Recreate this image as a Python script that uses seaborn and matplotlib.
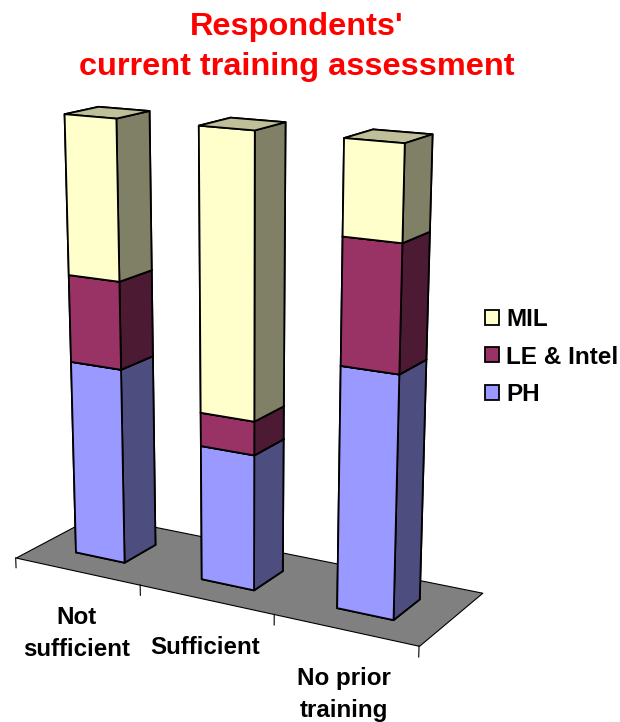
import numpy as np
import seaborn as sns
import matplotlib
matplotlib.use('Agg')
import matplotlib.pyplot as plt
from matplotlib.patches import Patch
from mpl_toolkits.mplot3d.art3d import Poly3DCollection

sns.set_style('white')
plt.rcParams['font.family'] = ['Liberation Sans', 'DejaVu Sans']
plt.rcParams['text.color'] = 'black'

categories = ['Not\nsufficient', 'Sufficient', 'No prior\ntraining']
series_names = ['PH', 'LE & Intel', 'MIL']
ph_values = [45.1, 30.8, 53.3]
le_values = [19.7, 7.5, 26.9]
mil_values = [35.2, 61.7, 19.8]

palette = sns.color_palette(['#9999FF', '#993366', '#FFFFCC'])

W, H = 620, 722
fig = plt.figure(figsize=(6.2, 7.22), dpi=100)
ax = fig.add_axes([-127.2 / W, -50.4 / H, 722 / W, 1], projection='3d', computed_zorder=False)
ax.set_proj_type('persp', focal_length=0.5)
ax.view_init(elev=16.5, azim=-60.4)
ax.set_xlim(0, 3)
ax.set_ylim(0, 1)
ax.set_zlim(0, 80)  # camera looks below the middle of the bars
ax.set_box_aspect((460, 150, 367), zoom=0.825)
ax.set_axis_off()

# grey floor with the category ticks on its front edge
floor = [[(0, 0, 0), (3, 0, 0), (3, 1, 0), (0, 1, 0)]]
ax.add_collection3d(Poly3DCollection(floor, facecolors='#808080', edgecolors='black',
                                     linewidths=0.8, zorder=1))
for i in range(len(categories) + 1):
    ax.plot([i, i], [0, 0], [0, -2.5], color='black', lw=0.8, zorder=2)

# stacked 3D bars
bottom = np.zeros(len(categories))
for values, color in zip([ph_values, le_values, mil_values], palette):
    base = np.array(color)
    faces = [base * 0.75, base * 0.75, base, base * 0.75, base, base * 0.5]
    xpos = np.arange(len(categories)) + 0.3
    ax.bar3d(xpos, np.full(3, 0.29), bottom, 0.395, 0.4, values,
             color=faces * len(categories), shade=False, edgecolor='black',
             linewidth=1.3, zorder=3)
    bottom = bottom + np.array(values)

fig.text(297 / W, 1 - 27 / H, "Respondents'", color='red', fontsize=23.4, fontweight='bold',
         ha='center', va='center')
fig.text(297 / W, 1 - 67 / H, 'current training assessment', color='red', fontsize=23.4,
         fontweight='bold', ha='center', va='center')

label_pos = [(77, 633.5), (205, 647), (344, 694)]
for label, (lx, ly) in zip(categories, label_pos):
    fig.text(lx / W, 1 - ly / H, label, fontsize=17.4, fontweight='bold', ha='center',
             va='center', linespacing=1.5)

handles = [Patch(facecolor=c, edgecolor='black', lw=1.3, label=n)
           for c, n in zip(palette[::-1], series_names[::-1])]
fig.legend(handles=handles, loc='center left', bbox_to_anchor=(485 / W, 1 - 357 / H),
           frameon=False, prop={'weight': 'bold', 'size': 17.5},
           handlelength=0.58, handleheight=0.58, handletextpad=0.3, labelspacing=0.6,
           borderpad=0, borderaxespad=0)

fig.savefig('out.png', dpi=100)
